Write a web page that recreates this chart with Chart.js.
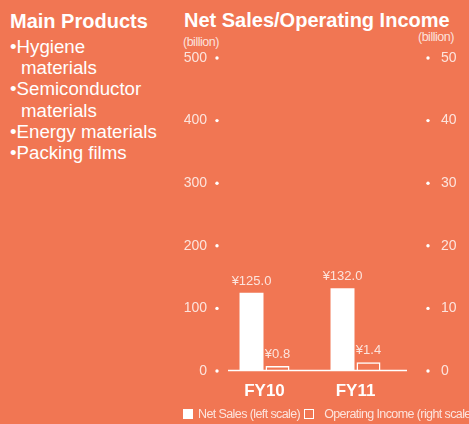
<!DOCTYPE html>
<html>
<head>
<meta charset="utf-8">
<script src="https://cdn.jsdelivr.net/npm/chart.js@4"></script>
<style>
  html, body { margin: 0; padding: 0; }
  body { width: 469px; height: 424px; overflow: hidden; position: relative; background: #f17653; color: #fff; font-family: "Liberation Sans", Arial, sans-serif; }
  #chartBox { position: absolute; left: 0; top: 0; width: 469px; height: 424px; }
  .abs { position: absolute; white-space: nowrap; }
  .head { font-weight: bold; font-size: 20px; }
  .prod { left: 10px; top: 36px; font-size: 18.7px; line-height: 21.2px; }
  .prod .ind { padding-left: 11px; }
  .unit { font-size: 12.5px; letter-spacing: -0.5px; color: rgba(255,255,255,0.8); }
  .leg { top: 407px; left: 183px; font-size: 12.5px; letter-spacing: -0.6px; color: rgba(255,255,255,0.8); }
  .sq { display: inline-block; width: 10px; height: 10px; vertical-align: -1px; margin-right: 5px; box-sizing: border-box; }
</style>
</head>
<body>
<div class="abs head" style="left:10px; top:10px;">Main Products</div>
<div class="abs prod">
  <div>•Hygiene</div>
  <div class="ind">materials</div>
  <div>•Semiconductor</div>
  <div class="ind">materials</div>
  <div>•Energy materials</div>
  <div>•Packing films</div>
</div>
<div class="abs head" style="left:184px; top:9px;">Net Sales/Operating Income</div>
<div class="abs unit" style="left:183px; top:35px;">(billion)</div>
<div class="abs unit" style="left:418px; top:30px;">(billion)</div>
<div id="chartBox"><canvas id="chart"></canvas></div>
<div class="abs leg">
  <span class="sq" style="background:#fff"></span>Net Sales (left scale)<span class="sq" style="border:1.5px solid #fff; margin-left:4px; margin-right:10px"></span>Operating Income (right scale)
</div>
<script>
const categorias = ['FY10', 'FY11'];
const vendas = [125.0, 132.0];
const lucroOper = [0.8, 1.4];
const ticksEsq = [0, 100, 200, 300, 400, 500];
const ticksDir = [0, 10, 20, 30, 40, 50];

const fonte = '"Liberation Sans", Arial, sans-serif';
const corTexto = 'rgba(255,255,255,0.8)';

// pontinhos ao lado dos numeros dos eixos + linha de base
const decoracao = {
  id: 'decoracao',
  afterDraw(chart) {
    const ctx = chart.ctx;
    const yL = chart.scales.y, yR = chart.scales.y1, area = chart.chartArea;
    ctx.save();
    ctx.fillStyle = '#fff';
    yL.ticks.forEach(t => {
      ctx.beginPath(); ctx.arc(yL.right - 2, yL.getPixelForValue(t.value), 1.7, 0, Math.PI * 2); ctx.fill();
    });
    yR.ticks.forEach(t => {
      ctx.beginPath(); ctx.arc(yR.left + 27, yR.getPixelForValue(t.value), 1.7, 0, Math.PI * 2); ctx.fill();
    });
    const y0 = yL.getPixelForValue(0) - 0.5;
    ctx.strokeStyle = '#fff';
    ctx.lineWidth = 1.5;
    ctx.beginPath(); ctx.moveTo(area.left + 9, y0); ctx.lineTo(area.right + 6, y0); ctx.stroke();
    ctx.restore();
  }
};

// rotulos de valor em cima das barras
const rotulos = {
  id: 'rotulos',
  afterDatasetsDraw(chart) {
    const ctx = chart.ctx;
    ctx.save();
    ctx.font = '13px ' + fonte;
    ctx.fillStyle = corTexto;
    ctx.textAlign = 'center';
    ctx.textBaseline = 'bottom';
    chart.data.datasets.forEach((ds, i) => {
      chart.getDatasetMeta(i).data.forEach((bar, j) => {
        ctx.fillText('¥' + ds.data[j].toFixed(1), bar.x, bar.y - 5);
      });
    });
    ctx.restore();
  }
};

new Chart(document.getElementById('chart'), {
  type: 'bar',
  data: {
    labels: categorias,
    datasets: [
      { label: 'Net Sales (left scale)', data: vendas, yAxisID: 'y', backgroundColor: '#fff', borderWidth: 0,
        categoryPercentage: 0.571, barPercentage: 0.923 },
      { label: 'Operating Income (right scale)', data: lucroOper, yAxisID: 'y1', backgroundColor: 'rgba(0,0,0,0)',
        borderColor: '#fff', borderWidth: 1.5, categoryPercentage: 0.571, barPercentage: 0.923 }
    ]
  },
  options: {
    responsive: true, maintainAspectRatio: false, animation: false,
    layout: { padding: { top: 58, left: 0, right: 0, bottom: 0 } },
    plugins: { legend: { display: false }, tooltip: { enabled: false } },
    scales: {
      x: {
        grid: { display: false, drawTicks: false }, border: { display: false },
        ticks: { color: '#fff', padding: 10, font: { family: fonte, size: 17, weight: 'bold' } },
        afterFit: s => { s.height = 53; }
      },
      y: {
        position: 'left', min: 0, max: 500,
        afterBuildTicks: s => { s.ticks = ticksEsq.map(v => ({ value: v })); },
        grid: { display: false, drawTicks: false }, border: { display: false },
        ticks: { color: corTexto, padding: 12, font: { family: fonte, size: 14 } },
        afterFit: s => { s.width = 219; }
      },
      y1: {
        position: 'right', min: 0, max: 50,
        afterBuildTicks: s => { s.ticks = ticksDir.map(v => ({ value: v })); },
        grid: { display: false, drawTicks: false }, border: { display: false },
        ticks: { color: corTexto, padding: 40, font: { family: fonte, size: 14 } },
        afterFit: s => { s.width = 68; }
      }
    }
  },
  plugins: [decoracao, rotulos]
});
</script>
</body>
</html>
